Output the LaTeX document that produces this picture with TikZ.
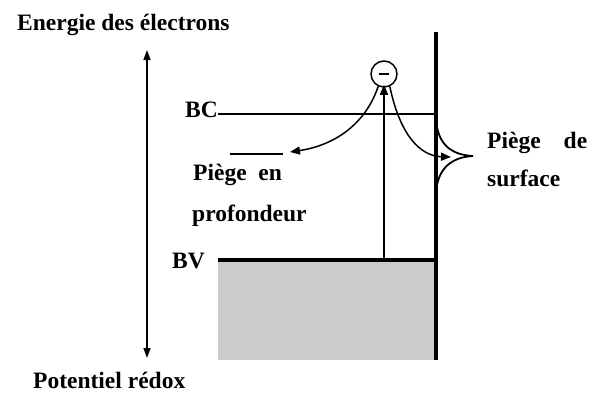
\documentclass[tikz,border=0pt]{standalone}
\usepackage{fontspec}
\setmainfont{Liberation Serif}
\usetikzlibrary{arrows.meta}

\begin{document}
\begin{tikzpicture}[
        x=1pt, y=-1pt,
        labelstyle/.style={
            font=\bfseries\fontsize{23.5}{26}\selectfont,
            inner sep=0pt,
            anchor=base west},
        levelstyle/.style={
            line width=2.6pt},
        arrowstyle/.style={
            -{Triangle[length=10pt,width=8pt]},
            line width=1.5pt}
        ]

        \useasboundingbox (0,0) rectangle (592,392);

        % bande de valence
        \fill[gray!40] (218,260) rectangle (436,360);

        % axe des energies
        \node[labelstyle] (energie) at (17,30) {Energie des électrons};
        \node[labelstyle] (redox) at (33,388) {Potentiel rédox};
        \coordinate (axetop) at (147,50);
        \coordinate (axebot) at (147,358);
        \draw[{Triangle[length=10pt,width=7pt]}-{Triangle[length=10pt,width=7pt]}, line width=1.4pt] (axetop) -- (axebot);

        % surface
        \coordinate (surftop) at (436,32);
        \coordinate (surfbot) at (436,360);
        \draw[line width=3.6pt] (surftop) -- (surfbot);

        % BC et BV
        \node[labelstyle] (bc) at (185,117) {BC};
        \draw[levelstyle] (218,114) -- (436,114);
        \node[labelstyle] (bv) at (172,268) {BV};
        \draw[line width=3.4pt] (218,260) -- (436,260);

        % electron
        \node[circle, draw, line width=1.5pt, minimum size=26pt, inner sep=0pt] (electron) at (384,74) {\rule{10pt}{2.4pt}};
        \coordinate (excit) at (384,259);
        \draw[arrowstyle] (excit) -- ([yshift=3pt]electron.south);

        % piege en profondeur
        \coordinate (piegeL) at (230,154);
        \coordinate (piegeR) at (283,154);
        \draw[line width=2.4pt] (piegeL) -- (piegeR);
        \node[labelstyle] (piege1) at (193,180) {Piège\ \ en};
        \node[labelstyle] (piege2) at (192,221) {profondeur};
        \draw[arrowstyle] (electron.245) .. controls (364,128) and (330,146) .. (290,152);

        % piege de surface
        \coordinate (cusp) at (473,156);
        \draw[line width=1.8pt] (437,127) .. controls (441,148) and (455,155) .. (cusp)
            .. controls (455,157) and (441,165) .. (437,185);
        \draw[arrowstyle] (electron.295) .. controls (400,135) and (420,156) .. (451,157);
        \node[labelstyle] (piege3) at (487,148) {\makebox[100pt][s]{Piège de}};
        \node[labelstyle] (piege4) at (487,186) {surface};

    \end{tikzpicture}
\end{document}
